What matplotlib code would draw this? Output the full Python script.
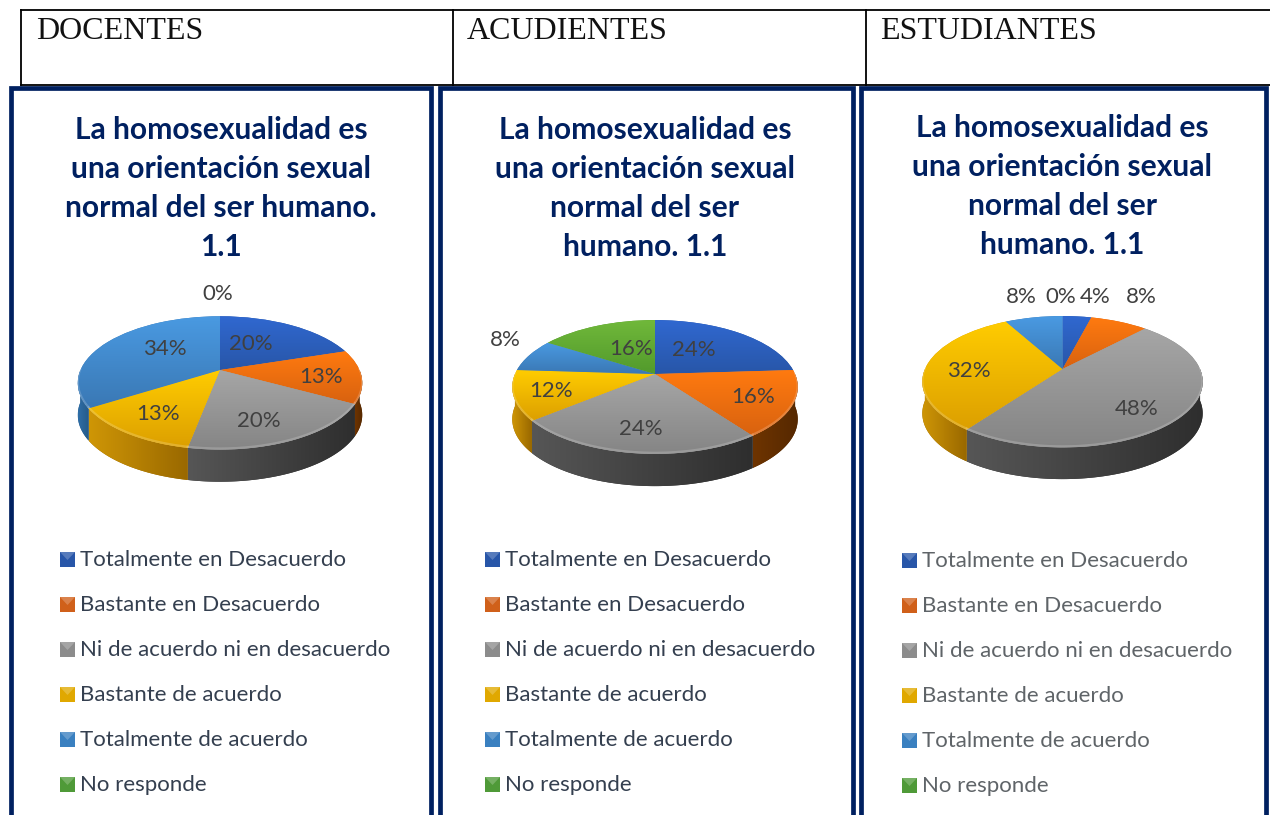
import numpy as np
import matplotlib
matplotlib.use("agg")
import matplotlib.pyplot as plt
from matplotlib.patches import Rectangle, Polygon
from matplotlib.transforms import Transform
from matplotlib.colors import LinearSegmentedColormap

plt.rcParams['font.family'] = ['Lato', 'DejaVu Sans']

W, H = 1270, 815
NAVY = '#002060'

categories = ['Totalmente en Desacuerdo', 'Bastante en Desacuerdo',
              'Ni de acuerdo ni en desacuerdo', 'Bastante de acuerdo',
              'Totalmente de acuerdo', 'No responde']
groups = ['DOCENTES', 'ACUDIENTES', 'ESTUDIANTES']
docentes = [20, 13, 20, 13, 34, 0]
acudientes = [24, 16, 24, 12, 8, 16]
estudiantes = [4, 8, 48, 32, 8, 0]

# colours: top face (back, front), side (left, right), legend base
top_colors = [('#3068d0', '#2856a8'), ('#ff7a10', '#d8620f'), ('#a6a6a6', '#858585'),
              ('#ffcc00', '#dc9f00'), ('#4a9ae2', '#3a78b4'), ('#70b83a', '#529a2c')]
side_colors = [('#1d3f7a', '#16325f'), ('#6e3400', '#552800'), ('#565656', '#2e2e2e'),
               ('#cf9606', '#996800'), ('#2f6ea8', '#245a88'), ('#3f7a24', '#2f5e1a')]
legend_colors = ['#2856a8', '#d0601a', '#8c8c8c', '#e0a800', '#3a80c0', '#4f9a38']

title_lines = [
    ['La homosexualidad es', 'una orientación sexual', 'normal del ser humano.', '1.1'],
    ['La homosexualidad es', 'una orientación sexual', 'normal del ser', 'humano. 1.1'],
    ['La homosexualidad es', 'una orientación sexual', 'normal del ser', 'humano. 1.1'],
]

panels = [
    dict(values=docentes, cx=220, cy=370, rx=139.5, title_x=221, title_y=130, marker_x=60, legend_y=560,
         legend_color='#343f4f', frame=(8, 85, 425, 760), head_x=36,
         labels=[(251, 344), (321, 377), (259, 421), (158, 414), (165, 349), (218, 294)]),
    dict(values=acudientes, cx=655, cy=374, rx=140, title_x=645, title_y=130, marker_x=485, legend_y=560,
         legend_color='#343f4f', frame=(437, 85, 418, 760), head_x=467,
         labels=[(694, 350), (753, 397), (641, 429), (551, 391), (505, 340), (631, 349)]),
    dict(values=estudiantes, cx=1062.5, cy=369, rx=137.5, title_x=1062, title_y=128, marker_x=902, legend_y=561,
         legend_color='#5f6468', frame=(858, 85, 410, 760), head_x=880,
         labels=[(1095, 297), (1141, 297), (1137, 409), (969, 371), (1021, 297), (1061, 297)]),
]

K = 0.194       # perspective of the tilted disc
S = 0.46        # vertical squash
DEPTH = 0.23    # side height, in radii


class Tilt(Transform):
    input_dims = 2
    output_dims = 2

    def transform_non_affine(self, values):
        values = np.asarray(values, dtype=float)
        w = 1 + K * values[:, 1]
        return np.column_stack([values[:, 0] / w, S * values[:, 1] / w])


def px(x, y):
    return x / W, 1 - y / H


def gradient(ax, c1, c2, extent, horizontal):
    cmap = LinearSegmentedColormap.from_list('g', [c1, c2])
    g = np.linspace(0, 1, 128)
    g = g.reshape(1, -1) if horizontal else g.reshape(-1, 1)
    return ax.imshow(g, cmap=cmap, extent=extent, origin='upper', aspect='auto',
                     interpolation='bilinear', zorder=3)


def drawPie(fig, p):
    span = 1.6 * p['rx']
    ax = fig.add_axes([(p['cx'] - span) / W, 1 - (p['cy'] + span) / H, 2 * span / W, 2 * span / H])
    wedges, _ = ax.pie(p['values'], startangle=90, counterclock=False, radius=1,
                       colors=[c[1] for c in top_colors])
    ax.set_aspect('auto')
    tilt = Tilt()
    for i, wedge in enumerate(wedges):
        wedge.set_transform(tilt + ax.transData)
        wedge.set_zorder(4)
        if p['values'][i] == 0:
            continue
        # side wall, only for the part of the arc facing the viewer
        t = np.radians(np.linspace(wedge.theta1, wedge.theta2, 200))
        t = t[np.sin(t) <= 0.0]
        if len(t) > 1:
            pts = tilt.transform(np.column_stack([np.cos(t), np.sin(t)]))
            low = pts - [0, DEPTH]
            wall = Polygon(np.vstack([pts, low[::-1]]), closed=True, transform=ax.transData,
                           fc=side_colors[i][1], ec='none', zorder=2)
            ax.add_patch(wall)
            x0, x1 = pts[:, 0].min(), pts[:, 0].max()
            im = gradient(ax, side_colors[i][0], side_colors[i][1], (x0, x1, -1, 0.2), True)
            im.set_zorder(2.5)
            im.set_clip_path(wall)
        # top face shading, over the height of each slice
        box = tilt.transform_path(wedge.get_path()).get_extents()
        im = gradient(ax, top_colors[i][0], top_colors[i][1], (-1.1, 1.1, box.y0, box.y1), False)
        im.set_zorder(5)
        im.set_clip_path(wedge)
        # soft light rim on the front of the disc
        if len(t) > 1:
            ax.plot(pts[:, 0], pts[:, 1] + 0.008, color='white', alpha=0.18, lw=1.6, zorder=6)
    ax.set_xlim(-1.6, 1.6)
    ax.set_ylim(-1.6, 1.6)
    ax.axis('off')
    ax.patch.set_alpha(0)
    for v, (x, y) in zip(p['values'], p['labels']):
        fx, fy = px(x, y)
        fig.text(fx, fy, f'{v}%', ha='center', va='center', fontsize=16, color='#404040')


def drawLegend(fig, bg, p):
    for i, name in enumerate(categories):
        y = p['legend_y'] + i * 45
        x0 = p['marker_x']
        c = legend_colors[i]
        bg.add_patch(Rectangle((x0, y - 8), 15, 15, fc=c, ec='none', zorder=3))
        bg.add_patch(Polygon([(x0, y - 8), (x0 + 15, y - 8), (x0 + 7.5, y)], fc='white', alpha=0.22,
                             ec='none', zorder=4))
        fx, fy = px(x0 + 20, y)
        fig.text(fx, fy, name, ha='left', va='center', fontsize=16, color=p['legend_color'])


fig = plt.figure(figsize=(W / 100, H / 100), dpi=100)
bg = fig.add_axes([0, 0, 1, 1])
bg.set_xlim(0, W)
bg.set_ylim(H, 0)
bg.axis('off')

# header table
for x0, x1, y0, y1 in [(21, W, 10, 10), (21, W, 85, 85), (21, 21, 10, 85), (453, 453, 10, 85), (866, 866, 10, 85)]:
    bg.plot([x0, x1], [y0, y1], color='black', lw=1.3, solid_capstyle='projecting', zorder=1)

for name, p in zip(groups, panels):
    fx, fy = px(p['head_x'], 39)
    fig.text(fx, fy, name, ha='left', va='baseline', fontsize=23, color='#111111', family='Liberation Serif')

for n, p in enumerate(panels):
    x, y, w, h = p['frame']
    bg.add_patch(Rectangle((x + 2.5, y + 2.5), w - 5, h, fc='white', ec=NAVY, lw=3.4, zorder=2))
    for j, line in enumerate(title_lines[n]):
        fx, fy = px(p['title_x'], p['title_y'] + j * 39)
        fig.text(fx, fy, line, ha='center', va='center', fontsize=21.6, fontweight='bold', color=NAVY)
    drawPie(fig, p)
    drawLegend(fig, bg, p)

fig.savefig('out.png', dpi=100)
